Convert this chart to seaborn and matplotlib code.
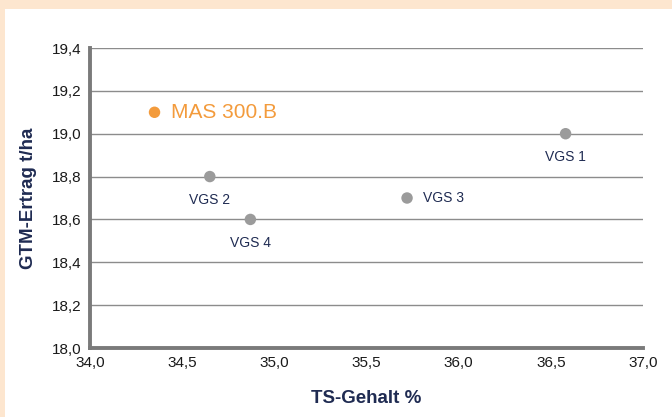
import matplotlib
matplotlib.use("Agg")
import matplotlib.pyplot as plt
import matplotlib.ticker as mticker
import seaborn as sns
import pandas as pd

# values
sorten = ["MAS 300.B", "VGS 1", "VGS 2", "VGS 3", "VGS 4"]
ts_gehalt = [34.35, 36.58, 34.65, 35.72, 34.87]
gtm_ertrag = [19.1, 19.0, 18.8, 18.7, 18.6]
gruppe = ["MAS", "VGS", "VGS", "VGS", "VGS"]

df = pd.DataFrame({"sorte": sorten, "ts": ts_gehalt, "gtm": gtm_ertrag, "gruppe": gruppe})

navy = "#1f2b52"
orange = "#f39b3c"
grey = "#9b9b9b"

sns.set_style("white")
plt.rcParams["font.family"] = ["Liberation Sans", "DejaVu Sans"]

fig = plt.figure(figsize=(6.72, 4.17), dpi=100, facecolor="#fde6cf")
# white panel inside the peach frame
bg = fig.add_axes([5 / 672, 0, 1, 1 - 9 / 417], zorder=-5)
bg.axis("off")
bg.add_patch(plt.Rectangle((0, 0), 1, 1, transform=bg.transAxes, facecolor="white", edgecolor="none"))

ax = fig.add_axes([90 / 672, 1 - 348 / 417, 553 / 672, 300 / 417])
ax.set_facecolor("white")

sns.scatterplot(data=df, x="ts", y="gtm", hue="gruppe", palette={"MAS": orange, "VGS": grey},
                s=68, edgecolor="none", legend=False, ax=ax, zorder=3, clip_on=False)

ax.set_xlim(34.0, 37.0)
ax.set_ylim(18.0, 19.4)
ax.set_xticks([34.0, 34.5, 35.0, 35.5, 36.0, 36.5, 37.0])
ax.set_yticks([18.0, 18.2, 18.4, 18.6, 18.8, 19.0, 19.2, 19.4])
fmt = mticker.FuncFormatter(lambda v, p: f"{v:.1f}".replace(".", ","))
ax.xaxis.set_major_formatter(fmt)
ax.yaxis.set_major_formatter(fmt)

ax.yaxis.grid(True, color="#8c8c8c", linewidth=1.0)
ax.set_axisbelow(True)
for s in ["top", "right"]:
    ax.spines[s].set_visible(False)
for s in ["left", "bottom"]:
    ax.spines[s].set_color("#7a7a7a")
    ax.spines[s].set_linewidth(2.8)

ax.tick_params(axis="x", direction="in", length=5, width=2, color="#7a7a7a",
               labelsize=11, labelcolor="#1a1a1a", pad=6)
ax.tick_params(axis="y", length=0, labelsize=11, labelcolor="#1a1a1a", pad=6)

ax.set_xlabel("TS-Gehalt %", fontsize=13.5, fontweight="bold", color=navy, labelpad=14)
ax.set_ylabel("GTM-Ertrag t/ha", fontsize=13.5, fontweight="bold", color=navy, labelpad=11)

# point labels
for name, x, y in zip(sorten, ts_gehalt, gtm_ertrag):
    if name == "MAS 300.B":
        ax.annotate(name, (x, y), xytext=(12, 0), textcoords="offset points",
                    ha="left", va="center", fontsize=15, color=orange)
    elif name == "VGS 3":
        ax.annotate(name, (x, y), xytext=(11.5, 0), textcoords="offset points",
                    ha="left", va="center", fontsize=10, color=navy)
    else:
        ax.annotate(name, (x, y), xytext=(0, -17), textcoords="offset points",
                    ha="center", va="center", fontsize=10, color=navy)

fig.savefig("out.png", dpi=100, facecolor=fig.get_facecolor())
